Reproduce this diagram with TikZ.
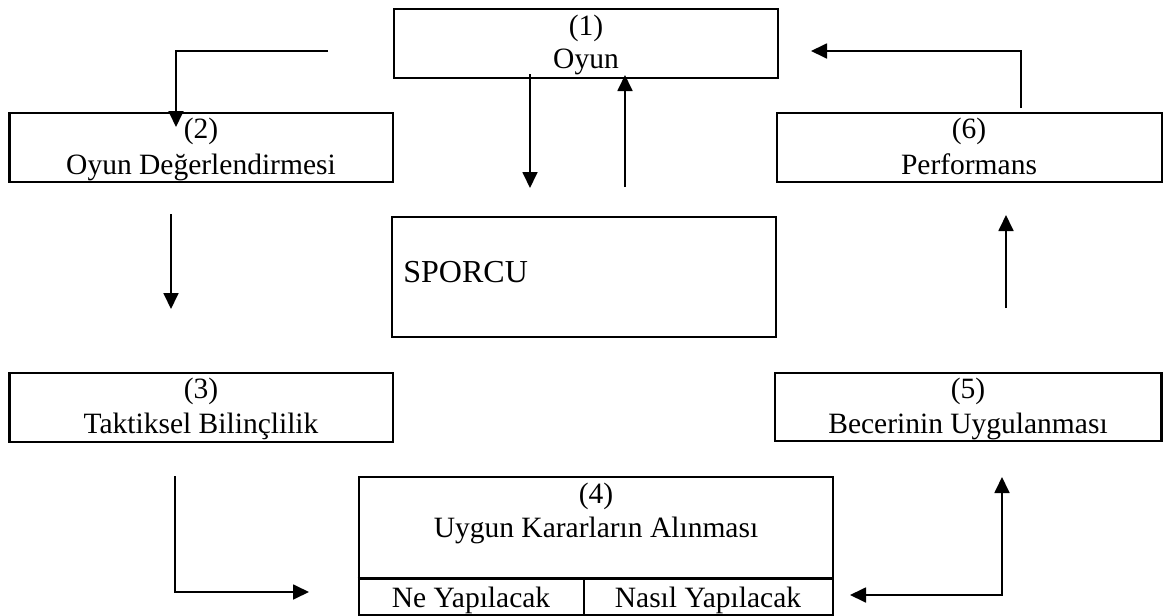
\documentclass[tikz,border=0pt]{standalone}
\usepackage{fontspec}
\setmainfont{Liberation Serif}
\usetikzlibrary{arrows.meta}
\begin{document}
\begin{tikzpicture}[x=0.5pt,y=-0.5pt,
  box/.style={draw,line width=1.35pt,inner sep=0pt,minimum height=34.5pt},
  lbl/.style={anchor=base,inner sep=0pt,font=\fontsize{14.75pt}{17pt}\selectfont},
  conn/.style={line width=0.9pt,-{Triangle[length=8pt,width=7.5pt]}},
  connb/.style={line width=0.9pt,{Triangle[length=8pt,width=7.5pt]}-{Triangle[length=8pt,width=7.5pt]}}]
\useasboundingbox (0,0) rectangle (1164,616);
% boxes
\node[box,minimum width=192pt] (b1) at (586,43.5) {};
\node[box,minimum width=191.7pt] (b2) at (201.3,147.5) {};
\node[box,minimum width=192.5pt] (b6) at (969.5,147.5) {};
\node[box,minimum width=192pt,minimum height=60pt] (sp) at (584,277) {};
\node[box,minimum width=191.7pt] (b3) at (201.3,407.5) {};
\node[box,minimum width=193.25pt,minimum height=34pt] (b5) at (968.2,407) {};
\node[box,minimum width=237pt,minimum height=69pt] (b4) at (596,546) {};
\coordinate (d1) at (584,578.5);
\draw[line width=1.35pt] (b4.west |- d1) -- (b4.east |- d1);
\draw[line width=1.35pt] (d1) -- (d1 |- b4.south);
% labels
\node[lbl] (t1a) at (586,35) {(1)};
\node[lbl] (t1b) at (586,68) {Oyun};
\node[lbl] (t2a) at (201,138) {(2)};
\node[lbl] (t2b) at (201,174) {Oyun Değerlendirmesi};
\node[lbl] (t6a) at (969,138) {(6)};
\node[lbl] (t6b) at (969,174) {Performans};
\node[lbl,anchor=base west,font=\fontsize{16pt}{19pt}\selectfont] (tsp) at (403,282) {SPORCU};
\node[lbl] (t3a) at (201,398) {(3)};
\node[lbl] (t3b) at (201,433) {Taktiksel Bilinçlilik};
\node[lbl] (t5a) at (968,398) {(5)};
\node[lbl] (t5b) at (968,433) {Becerinin Uygulanması};
\node[lbl] (t4a) at (596,503) {(4)};
\node[lbl] (t4b) at (596,537) {Uygun Kararların Alınması};
\node[lbl] (t4c) at (471,607) {Ne Yapılacak};
\node[lbl] (t4d) at (708,607) {Nasıl Yapılacak};
% connector end points
\coordinate (a1s) at (328,51);
\coordinate (a1e) at (176,127);
\coordinate (a2s) at (530,74);
\coordinate (a2e) at (530,188);
\coordinate (a3s) at (625,187);
\coordinate (a3e) at (625,75);
\coordinate (a4s) at (1021,108);
\coordinate (a4e) at (811,51);
\coordinate (a5s) at (171,214);
\coordinate (a5e) at (171,309);
\coordinate (a6s) at (1006,308);
\coordinate (a6e) at (1006,215);
\coordinate (a7s) at (175,476);
\coordinate (a7e) at (309,592);
\coordinate (a8s) at (850,595);
\coordinate (a8e) at (1002,477);
% connectors
\draw[conn] (a1s) -| (a1e);
\draw[conn] (a2s) -- (a2e);
\draw[conn] (a3s) -- (a3e);
\draw[conn] (a4s) |- (a4e);
\draw[conn] (a5s) -- (a5e);
\draw[conn] (a6s) -- (a6e);
\draw[conn] (a7s) |- (a7e);
\draw[connb] (a8s) -| (a8e);
\end{tikzpicture}
\end{document}
